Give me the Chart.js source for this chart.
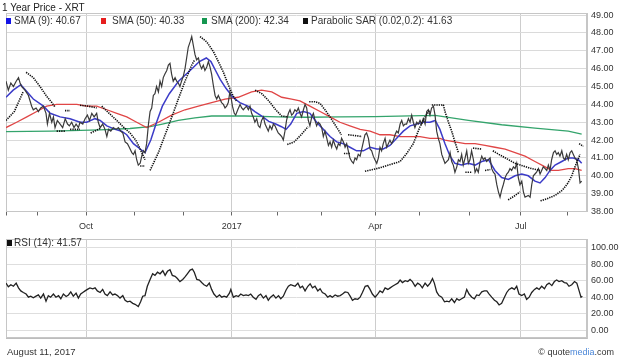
<!DOCTYPE html>
<html>
<head>
<meta charset="utf-8">
<script src="https://cdn.jsdelivr.net/npm/chart.js@4.4.1/dist/chart.umd.min.js"></script>
<style>
  body { margin: 0; width: 620px; height: 362px; background: #fff; position: relative; overflow: hidden;
         font-family: "Liberation Sans", Arial, sans-serif; color: #333; }
  canvas { position: absolute; left: 0; }
  #price { top: 0; }
  #rsi { top: 230px; }
  .txt { position: absolute; white-space: nowrap; font-size: 10px; line-height: 10px; color: #333; }
  .sq { position: absolute; width: 5px; height: 6px; }
</style>
</head>
<body>
<canvas id="price" width="620" height="232"></canvas>
<canvas id="rsi" width="620" height="118"></canvas>

<div class="txt" style="left:2px;top:3px;color:#222">1 Year Price - XRT</div>

<div class="sq" style="left:6px;top:18px;background:#1414e6"></div>
<div class="txt" style="left:14px;top:16px">SMA (9): 40.67</div>
<div class="sq" style="left:101px;top:18px;background:#e61e1e"></div>
<div class="txt" style="left:112px;top:16px">SMA (50): 40.33</div>
<div class="sq" style="left:202px;top:18px;background:#159650"></div>
<div class="txt" style="left:211px;top:16px">SMA (200): 42.34</div>
<div class="sq" style="left:303px;top:18px;background:#111"></div>
<div class="txt" style="left:311px;top:16px">Parabolic SAR (0.02,0.2): 41.63</div>

<div class="sq" style="left:7px;top:240px;background:#111"></div>
<div class="txt" style="left:14px;top:238px">RSI (14): 41.57</div>

<div class="txt" style="left:7px;top:347px;font-size:9.5px">August 11, 2017</div>
<div class="txt" style="right:6px;top:347px;font-size:9px">© quote<span style="color:#4a86d8">media</span>.com</div>

<script>
// trading-day index (0 = Aug 12 2016) for month starts, quarter labels
const monthDays = [0.4, 14, 35, 56, 77, 98, 118, 137, 160, 179, 201, 223, 243];
const quarterLabels = { 35: 'Oct', 98: '2017', 160: 'Apr', 223: 'Jul' };
const priceTicks = [38, 39, 40, 41, 42, 43, 44, 45, 46, 47, 48, 49];
const rsiTicks = [0, 10, 20, 30, 40, 50, 60, 70, 80, 90, 100];

// closing price
const closeDay = [
  0.4,1.4,2.5,3.6,4.8,5.8,6.5,7.2,8.6,10.1, 11.5,12.2,13.4,14.4,15.4,16.6,17.7,18.3,19.2,20.2,
  20.9,21.6,22.6,23.8,24.9,26.0,27.0,27.8,28.8,29.8, 30.7,31.7,32.4,33.6,34.6,35.6,36.5,37.5,38.5,39.6,
  40.3,41.1,42.2,43.2,44.0,44.7,45.7,46.8,48.0,49.0, 50.0,50.9,51.9,52.9,53.7,54.8,55.5,56.2,56.9,57.6,
  58.4,59.1,59.8,60.5,61.2,62.0,62.7,
  63.4,64.1,64.8,65.5,66.3,67.0,67.7,68.4,69.1,69.9, 70.6,71.3,72.0,72.7,73.5,74.2,74.9,75.6,76.3,77.1,
  77.8,78.5,79.2,80.0,80.7,81.4,82.1,82.8,83.6,84.3, 85.0,85.7,86.4,87.2,87.9,88.6,89.3,90.0,90.8,91.5,
  92.2,92.9,93.6,94.4,95.1,95.8,96.5,97.2,97.7,98.3, 99.1,99.7,100.6,101.6,102.3,103.0,103.7,104.4,105.2,105.9,
  106.6,107.3,108.0,108.8,109.5,110.2,110.9,111.7,112.4,113.1, 113.8,114.5,115.3,116.0,116.7,117.4,118.1,118.9,119.6,120.3,
  121.0,121.7,122.5,123.2,123.9,124.6,125.3,
  126.1,126.8,127.5,128.2,129.0,129.7,130.4,131.1,131.8,132.6, 133.3,134.0,134.7,135.4,136.2,136.9,137.6,138.3,139.1,139.8,
  140.5,141.2,141.9,142.7,143.4,144.1,144.8,145.5,146.3,147.0, 147.7,148.4,149.1,149.9,150.6,151.3,152.0,152.7,153.5,154.2,
  154.9,155.6,156.3,157.1,157.8,158.5,159.2,159.9,160.7,161.4, 162.1,162.8,163.5,164.3,165.0,165.7,166.4,167.1,167.9,168.6,
  169.3,170.0,170.8,171.5,172.2,172.9,173.6,174.4,175.1,175.8, 176.5,177.2,178.0,178.7,179.4,180.1,180.8,181.6,182.3,183.0,
  183.7,184.4,185.2,185.9,186.6,187.3,188.0,
  188.8,190.2,191.7,192.4,193.1,193.8,194.5,195.3,196.0,196.7, 197.4,198.1,198.9,199.6,200.3,201.0,201.7,202.5,203.2,203.9,
  204.6,205.4,206.1,206.8,207.5,208.2,209.0,209.7,210.4,211.1, 211.8,212.6,213.3,214.0,214.7,215.4,216.2,216.9,217.6,218.3,
  219.0,219.8,220.5,221.2,221.9,222.6,223.4,224.1,224.8,226.2, 227.0,227.7,228.4,229.1,229.8,230.6,231.3,232.0,232.7,233.5,
  234.2,234.9,235.6,236.3,237.1,237.8,238.5,239.2,239.9,240.7, 241.4,242.1,242.8,243.5,244.3,245.0,245.7,246.4,247.1,247.9,
  248.6,249.3
];
const closeVal = [
  45.3,44.8,45.2,45.0,45.3,45.5,45.2,45.0,44.8,44.5, 43.9,43.7,43.8,43.6,43.8,43.9,43.5,42.9,43.5,43.0,
  43.3,42.7,43.1,42.9,42.7,43.2,42.9,42.8,43.0,42.7, 42.9,42.7,43.0,42.9,43.2,43.4,43.1,43.5,43.3,43.5,
  43.0,42.7,42.9,42.6,42.2,42.6,42.5,42.7,42.6,42.7, 42.5,42.4,41.9,41.8,41.6,41.3,41.2,41.4,40.9,40.6,
  40.7,41.1,41.4,41.3,41.8,42.9,43.6,
  43.8,44.5,44.6,45.0,44.7,45.3,45.0,45.5,45.7,45.9, 46.2,46.3,45.7,45.3,45.5,45.3,45.2,45.0,45.3,45.6,
  46.0,46.6,47.2,47.5,47.8,47.3,46.8,46.5,46.6,46.2, 46.0,46.2,45.9,46.1,46.4,46.1,45.7,45.1,44.5,44.3,
  44.5,44.3,44.1,44.0,43.8,43.9,44.1,44.7,44.4,43.9, 43.5,43.4,43.7,44.0,43.8,43.7,43.8,43.9,43.7,43.9,
  43.5,43.3,43.0,43.2,42.8,42.7,43.1,43.3,42.9,42.7, 42.5,42.8,42.6,42.9,42.8,42.6,42.4,42.3,42.2,42.0,
  42.5,43.1,43.5,43.7,43.4,43.5,43.7,
  43.6,43.8,43.5,43.3,43.7,44.0,43.8,43.1,42.8,43.3, 43.5,43.1,42.8,43.0,42.9,42.7,42.2,42.5,42.1,41.7,
  41.9,41.6,42.0,41.7,41.5,41.8,41.7,42.1,41.9,41.6, 41.8,41.4,41.0,40.8,40.7,41.0,40.9,41.2,41.1,41.5,
  41.9,42.3,42.4,42.1,41.5,41.4,41.1,40.9,40.7,41.0, 41.6,41.4,41.8,42.1,41.6,41.8,42.0,41.8,42.0,42.3,
  42.5,42.4,42.9,43.1,42.8,42.9,42.9,43.2,43.0,43.4, 43.0,42.7,43.0,42.9,43.1,42.9,43.2,42.9,43.6,43.7,
  43.4,43.8,43.9,43.4,42.5,42.1,41.8,
  41.2,40.7,40.9,41.3,40.8,40.6,40.2,40.5,40.9,40.8, 41.2,40.6,41.0,41.4,40.7,40.9,41.4,40.9,40.2,40.4,
  40.2,40.8,41.1,40.9,41.0,40.8,40.9,41.0,40.4,40.2, 40.1,39.5,39.1,38.8,39.2,39.5,39.9,40.1,40.2,40.4,
  40.3,40.5,40.4,40.7,39.9,39.5,39.7,39.1,38.8,38.9, 38.8,39.5,40.0,40.1,40.2,40.4,40.1,40.3,40.5,40.4,
  40.3,40.6,40.3,40.9,41.3,41.4,41.2,41.3,41.1,41.4, 41.0,40.9,41.2,40.9,41.3,41.4,41.2,41.0,40.9,40.4,
  39.6,39.7
];

// SMA (9)
const sma9Day = [
  0.4,3.5,6.8,12.2,16.6,19.5,23.8,28.1,32.4,35.3, 38.9,41.1,44.0,47.6,50.4,52.6,55.5,58.4,60.5,63,
  65.5,68,71,75,80,84,87,89,91,93, 95.5,98.5,101.5,105,108,111,114,117,119.5,121.5,
  123.5,126.1,129,131.8,134.7,137.6,140.5,143.4,146.3,149.1, 152,154.9,157.8,160.7,163.5,166.4,169.3,172.2,175.1,178,
  180.8,183.7,186,188,190.2,192.4,194.5,197.4,200.3,203.2, 206.1,209,211.8,214.7,217.6,220.5,223.4,226.2,229.1,231.3,
  233.5,235.6,237.8,240.7,243.5,245.7,247.9,249.3
];
const sma9Val = [
  44.4,44.8,45.1,44.3,43.9,43.5,43.3,43.2,43.0,43.0, 43.2,43.1,42.8,42.6,42.5,42.3,41.8,41.5,41.3,42.0,
  43.0,43.9,44.6,45.3,45.9,46.4,46.6,46.4,45.9,45.4, 44.9,44.4,44.1,43.9,43.6,43.35,43.05,42.9,42.75,42.6,
  42.9,43.5,43.6,43.5,43.0,42.6,42.2,41.9,41.8,41.6, 41.4,41.4,41.6,41.5,41.5,41.7,42.1,42.5,42.8,42.9,
  43.0,43.0,43.1,42.6,41.8,41.1,40.7,40.6,40.7,40.6, 40.8,40.9,40.3,39.9,39.8,40.0,40.1,40.0,39.7,39.6,
  39.9,40.3,40.6,40.8,41.0,41.0,40.9,40.7
];

// SMA (50)
const sma50Day = [
  0.4,5.0,9.4,13.7,18.0,22.3,26.7,31.0,35.3,39.6, 44.0,48.3,52.6,56.9,61.2,66.3,72.0,77.8,83.6,89.3,
  95.1,100.8,106.6,110.9,115.3,119.6,123.9,127.5,131.8,136.2, 140.5,144.8,149.1,153.5,157.8,162.1,166.4,170.8,175.1,179.4,
  183.7,188.0,190.2,194.5,198.9,203.2,207.5,211.8,216.2,220.5, 224.8,229.1,233.5,236.3,239.2,243.5,246.4,249.3
];
const sma50Val = [
  42.7,43.0,43.3,43.6,43.9,44.0,44.0,44.0,43.9,43.9, 43.7,43.5,43.3,43.0,42.7,43.0,43.4,43.7,43.9,44.1,
  44.3,44.4,44.7,44.8,44.7,44.4,44.3,44.2,43.9,43.6, 43.3,43.0,42.8,42.6,42.5,42.3,42.3,42.2,42.2,42.2,
  42.1,42.1,42.0,41.9,41.8,41.8,41.7,41.6,41.5,41.3, 41.1,40.8,40.5,40.3,40.3,40.4,40.4,40.3
];

// SMA (200)
const sma200Day = [0.4, 20, 41, 54, 62.7, 68, 74.9, 82.1, 89.3, 103.7, 118.1, 130, 145, 160, 175, 185.9, 200.3, 214.7, 229.1, 243.5, 249.3];
const sma200Val = [42.47, 42.5, 42.57, 42.65, 42.75, 42.9, 43.1, 43.25, 43.35, 43.35, 43.3, 43.28, 43.3, 43.32, 43.36, 43.38, 43.1, 42.86, 42.67, 42.5, 42.34];

// Parabolic SAR, null separates the runs
const sarDay = [
  0.4,4,7.8,null, 9.1,12.2,15.1,18,20.2,21.6,null, 22.3,25.9,null, 25.9,28.1,null, 28.1,32.4,null,
  32.4,36,39.6,null, 37,41.3,null, 41.8,45,48.3,51,54,56.5,58.4,60.5,null, 58.4,60.5,null,
  62.7,66.3,69.2,72.1,74.9,77.8,80.7,82,null, 84.3,87.2,90.1,92.2,94.4,96.5,98.5,100,null,
  108.1,111,114,117,119.6,122.3,null, 122,125,128,131,null, 131.5,134,136.2,138.3,140.5,143.2,145.4,null,
  146.5,149.2,null, 148.3,154.3,null, 155.6,162.1,167,170.8,173.7,176.5,179.4,181.6,183.7,null,
  184.5,189.5,190.2,191.7,193.1,194.5,196,null, 199,202,null, 202.3,206,null, 207.5,209.8,null,
  210.9,213.5,217,220.5,224,227.7,231.3,null, 217.5,220,222.6,null,
  231.5,234,237.8,241,243.4,245,246.4,248.6,null, 248.2,250
];
const sarVal = [
  43.1,43.6,44.7,null, 45.8,45.5,45.0,44.45,44.1,43.85,null, 42.5,42.5,null, 43.65,43.65,null, 42.6,42.6,null,
  43.95,43.9,43.8,null, 42.4,42.66,null, 43.9,43.5,43.1,42.75,42.4,42.0,41.5,40.9,null, 40.55,40.55,null,
  40.3,41.3,42.3,43.3,44.3,45.3,46.2,46.5,null, 47.8,47.5,46.95,46.4,45.8,45.1,44.5,44.2,null,
  44.8,44.6,44.2,43.7,43.35,43.3,null, 41.75,41.9,42.3,42.75,null, 44.15,44.15,44.05,43.7,43.3,42.75,42.3,null,
  41.25,41.25,null, 42.3,42.2,null, 40.25,40.45,40.65,40.8,41.26,41.8,42.75,43.3,43.7,null,
  43.97,43.97,43.6,43.0,42.5,41.9,41.3,null, 40.2,40.2,null, 41.55,41.5,null, 40.3,40.35,null,
  41.4,41.2,40.95,40.7,40.55,40.4,40.3,null, 38.65,38.85,39.1,null,
  38.6,38.7,38.9,39.2,39.6,40.0,40.5,41.2,null, 41.8,41.65
];

// RSI (14)
const rsiDay = [
  0.4,1.4,2.5,3.6,4.8,5.8,6.8,7.9,9.1,10.1, 11.1,12.2,13.4,14.4,15.4,16.6,17.7,18.7,19.7,20.9,
  22.0,23.1,24.1,25.2,26.4,27.4,28.4,29.5,30.7,31.7, 32.7,33.6,34.6,35.6,36.7,37.9,38.9,39.9,41.1,42.2,
  43.2,44.2,45.4,46.5,47.5,48.6,49.7,50.9,51.9,52.9, 54.0,55.2,56.2,57.6,58.6,59.5,60.5,61.5,62.7,63.8,
  64.8,65.9,67.0,68.2,69.2,70.2,71.3,72.3,73.5,74.5, 75.6,76.8,77.8,78.8,80.0,81.0,81.8,82.9,84.0,85.0,
  86.0,87.2,88.3,89.3,90.3,91.5,92.7,93.7,94.7,95.8, 97.0,97.6,98.7,99.9,100.9,101.9,103.0,104.2,105.2,106.2,
  107.3,108.5,109.5,110.5,111.7,112.8,113.8,114.8,116.0,117.1, 118.2,119.2,120.3,121.5,122.5,123.5,124.6,
  125.4,126.6,127.6,128.6,129.7,130.9,131.9,132.9,134.0,135.2, 136.2,137.2,138.4,139.5,140.5,141.5,142.7,143.8,144.9,145.9,
  147.0,148.2,149.2,150.2,151.3,152.5,153.5,154.5,155.7,156.8, 157.8,158.8,160.0,161.1,162.1,163.2,164.3,165.5,166.5,167.5,
  168.6,169.8,170.8,171.8,173.0,174.1,175.1,176.1,177.3,178.4, 179.4,180.4,181.6,182.7,183.8,184.8,185.6,186.6,187.6,188.8,
  190.0,191.0,192.0,193.1,194.3,195.3,196.3,197.4,198.6,199.6, 200.6,201.8,202.9,203.9,204.9,206.1,207.2,208.3,209.3,210.4,
  211.6,212.6,213.6,214.7,215.9,216.9,217.9,219.1,220.2,221.2, 222.2,223.4,224.5,225.5,226.6,227.7,228.9,229.9,230.9,232.0,
  233.2,234.2,235.2,236.4,237.5,238.5,239.5,240.7,241.8,242.8, 243.8,245.0,246.2,247.2,248.2,249.0,249.6
];
const rsiVal = [
  57.1,52.6,55.2,53.3,57.1,51.4,47.7,45.8,43.9,40.1, 41.3,39.4,41.3,42.8,39.0,43.9,35.2,42.0,40.1,43.9,
  40.1,42.0,38.2,43.9,40.9,42.8,46.5,41.3,45.0,39.0, 43.9,45.8,47.7,49.5,51.4,50.3,51.4,47.7,45.8,49.5,
  43.9,42.0,46.5,42.8,43.9,42.0,39.0,42.0,36.4,34.5, 35.2,32.6,31.5,28.8,34.5,41.3,42.0,53.3,61.6,68.4,
  66.5,70.3,68.4,72.1,66.5,71.4,73.3,66.5,65.4,62.7, 59.0,61.6,64.6,68.4,72.9,74.0,70.3,61.6,60.8,57.8,
  55.2,53.3,57.1,49.5,43.9,40.1,42.8,40.1,41.3,40.1, 45.0,49.5,40.1,42.0,40.9,43.9,42.0,42.8,42.0,43.9,
  40.1,37.5,42.0,43.9,39.0,42.0,36.4,40.1,42.8,39.0, 42.0,38.2,41.3,48.8,53.3,55.2,54.1,
  53.3,57.1,51.4,53.3,47.7,53.3,56.3,51.4,53.3,47.7, 50.3,45.8,43.9,40.1,42.0,40.1,42.8,41.3,42.0,43.9,
  46.5,45.8,41.3,36.4,38.2,37.5,40.1,45.8,53.3,54.1, 49.5,43.9,40.1,43.9,47.7,45.8,51.4,49.5,51.4,53.3,
  55.2,57.1,60.8,57.8,60.1,59.0,61.6,59.0,53.3,57.1, 55.2,51.4,57.1,53.3,57.1,62.7,57.1,46.5,42.0,40.1,
  34.5,35.2,34.5,38.2,33.7,38.2,36.4,38.2,40.1,49.5, 43.9,40.1,38.2,42.8,42.0,46.5,47.7,47.7,43.9,40.1,
  36.4,34.5,30.7,32.6,40.1,45.8,49.5,51.4,49.5,53.3, 43.9,42.0,43.9,37.5,40.1,45.8,49.5,51.4,49.5,53.3,
  50.3,55.2,57.1,54.1,59.0,60.8,59.0,60.1,57.8,57.1, 53.3,55.2,59.0,57.1,47.7,40.1,41.3
];

Chart.defaults.font.family = '"Liberation Sans", Arial, sans-serif';
Chart.defaults.color = '#333';

function pts(days, vals) {
  let last = 0;
  return days.map((d, i) => {
    if (d !== null) last = d;
    return { x: last, y: vals[i] };
  });
}

function line(label, days, vals, color, width, order, dash) {
  return {
    label, data: pts(days, vals), borderColor: color, borderWidth: width,
    borderDash: dash || [], pointRadius: 0, fill: false, tension: 0,
    spanGaps: false, order
  };
}

// light frame round the plotting area
const framePlugin = {
  id: 'frame',
  beforeDatasetsDraw(chart) {
    const { ctx, chartArea: a } = chart;
    ctx.save();
    ctx.strokeStyle = '#c6c6c6';
    ctx.lineWidth = 1;
    ctx.strokeRect(Math.round(a.left) + 0.5, Math.round(a.top) + 0.5,
                   Math.round(a.width) - 1, Math.round(a.height) - 1);
    ctx.restore();
  }
};

const xCommon = {
  type: 'linear', min: 0.4, max: 251.6,
  afterBuildTicks: s => { s.ticks = monthDays.map(v => ({ value: v })); },
  border: { color: '#bdbdbd' }
};

new Chart(document.getElementById('price'), {
  type: 'line',
  data: {
    datasets: [
      line('Parabolic SAR', sarDay, sarVal, '#111', 1.6, 0, [1.3, 1.0]),
      line('Close', closeDay, closeVal, '#3a3a3a', 1.2, 1),
      line('SMA (9)', sma9Day, sma9Val, '#3c3cc8', 1.5, 2),
      line('SMA (50)', sma50Day, sma50Val, '#e04646', 1.3, 3),
      line('SMA (200)', sma200Day, sma200Val, '#34a46c', 1.3, 4)
    ]
  },
  options: {
    responsive: false, animation: false, events: [],
    layout: { padding: { left: 6, top: 13, right: 0, bottom: 0 } },
    plugins: { legend: { display: false }, tooltip: { enabled: false } },
    scales: {
      x: Object.assign({}, xCommon, {
        afterFit: s => { s.height = 20.5; },
        grid: {
          color: c => quarterLabels[c.tick && c.tick.value] ? '#cdcdcd' : 'rgba(0,0,0,0)',
          tickColor: '#666', tickLength: 4
        },
        ticks: { autoSkip: false, maxRotation: 0, padding: 6, font: { size: 9 },
                 callback: v => quarterLabels[v] || '' }
      }),
      y: {
        position: 'right', min: 38, max: 49.12,
        afterBuildTicks: s => { s.ticks = priceTicks.map(v => ({ value: v })); },
        afterFit: s => { s.width = 33; },
        grid: { color: '#dadada', drawTicks: false },
        border: { color: '#c6c6c6' },
        ticks: { padding: 4, font: { size: 9 }, callback: v => v.toFixed(2) }
      }
    }
  },
  plugins: [framePlugin]
});

new Chart(document.getElementById('rsi'), {
  type: 'line',
  data: {
    datasets: [line('RSI (14)', rsiDay, rsiVal, '#222', 1.3, 0)]
  },
  options: {
    responsive: false, animation: false, events: [],
    layout: { padding: { left: 6, top: 6, right: 0, bottom: 6 } },
    plugins: { legend: { display: false }, tooltip: { enabled: false } },
    scales: {
      x: Object.assign({}, xCommon, {
        afterFit: s => { s.height = 0; },
        grid: {
          color: c => quarterLabels[c.tick && c.tick.value] ? '#cdcdcd' : 'rgba(0,0,0,0)',
          drawTicks: false
        },
        ticks: { display: false }
      }),
      y: {
        position: 'right', min: -10, max: 110,
        afterBuildTicks: s => { s.ticks = rsiTicks.map(v => ({ value: v })); },
        afterFit: s => { s.width = 33; },
        grid: {
          drawTicks: false,
          color: c => {
            const v = c.tick && c.tick.value;
            if (v === 70) return '#54ad84';
            if (v === 30) return '#e07a7a';
            return '#dedede';
          }
        },
        border: { color: '#c6c6c6' },
        ticks: { padding: 4, font: { size: 9 }, callback: v => (v % 20 === 0 ? v.toFixed(2) : '') }
      }
    }
  },
  plugins: [framePlugin]
});
</script>
</body>
</html>
